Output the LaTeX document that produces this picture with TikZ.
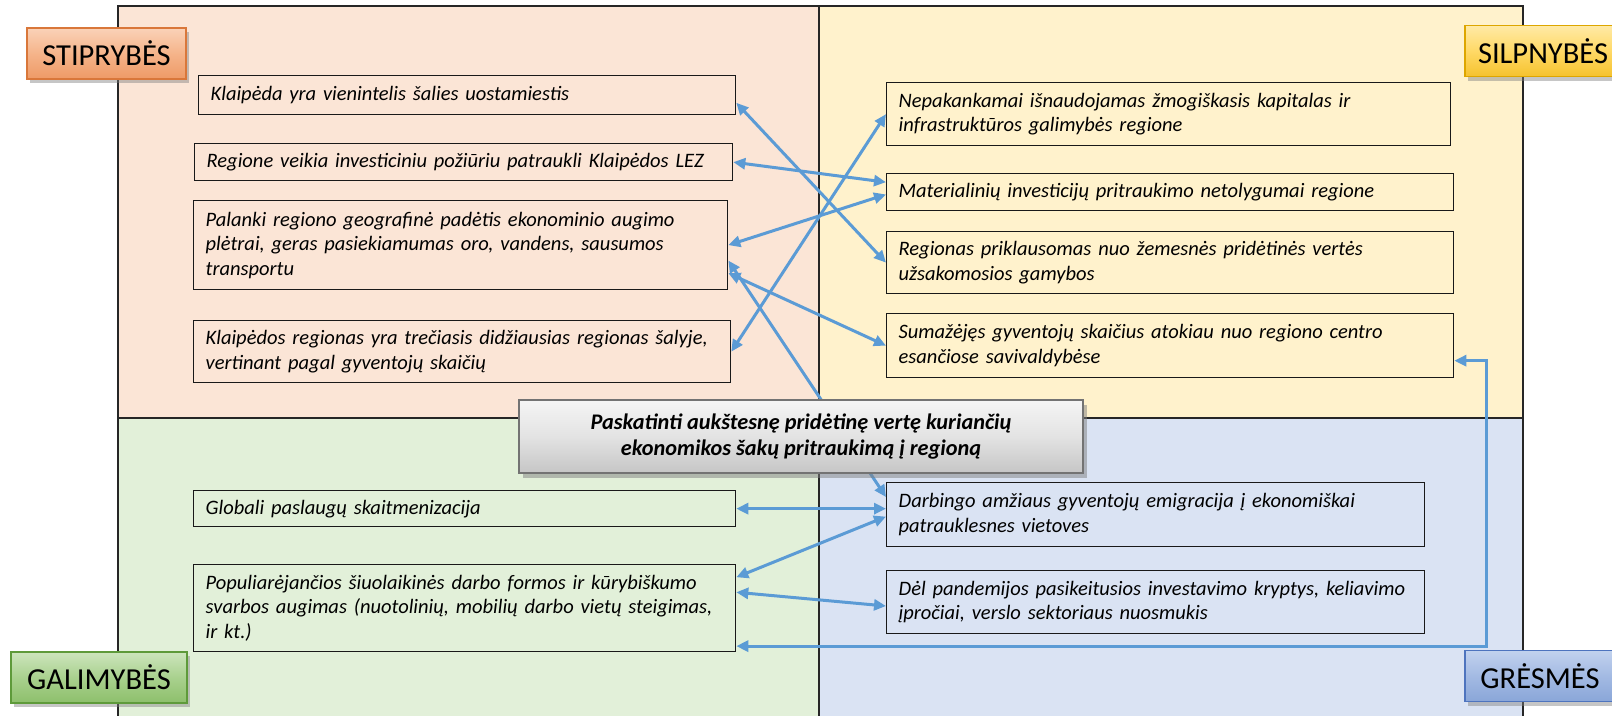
\documentclass[tikz,border=0pt]{standalone}
\usepackage{fontspec}
\setmainfont{Carlito}
\usetikzlibrary{arrows.meta,calc,shadows}
\definecolor{qtl}{HTML}{FBE5D6}
\definecolor{qtr}{HTML}{FFF2CC}
\definecolor{qbl}{HTML}{E2F0D9}
\definecolor{qbr}{HTML}{DAE3F3}
\definecolor{arrowblue}{HTML}{5B9BD5}
\definecolor{sTop}{HTML}{FAD2B8}\definecolor{sMid}{HTML}{F5B48A}\definecolor{sBot}{HTML}{EE9A66}\definecolor{sBrd}{HTML}{D9773A}
\definecolor{wTop}{HTML}{FFEAA6}\definecolor{wMid}{HTML}{FFD966}\definecolor{wBot}{HTML}{F5C22E}\definecolor{wBrd}{HTML}{DDA600}
\definecolor{oTop}{HTML}{CDE5BD}\definecolor{oMid}{HTML}{A9D18E}\definecolor{oBot}{HTML}{8DBF6B}\definecolor{oBrd}{HTML}{5E9A3A}
\definecolor{tTop}{HTML}{C2D2EE}\definecolor{tMid}{HTML}{A3BAE3}\definecolor{tBot}{HTML}{8AA6D8}\definecolor{tBrd}{HTML}{4E74BE}
\begin{document}
\begin{tikzpicture}[x=1pt,y=-1pt,
  frame/.style={draw=black!85,line width=1.5pt},
  box/.style 2 args={draw=black!90,line width=1.3pt,anchor=north west,inner xsep=12pt,inner ysep=0pt,
     align=left,text width=#1pt,minimum height=#2pt,font=\fontsize{20.5}{24.5}\selectfont\itshape},
  conn/.style={draw=arrowblue,line width=3pt,{Triangle[length=12pt,width=11pt]}-{Triangle[length=12pt,width=11pt]}},
  lbl/.style 2 args={draw=#1,line width=1.2pt,minimum width=#2pt,minimum height=51pt,inner sep=0pt,
     font=\fontsize{30.5}{36}\selectfont,drop shadow={shadow xshift=3pt,shadow yshift=-4pt,opacity=0.45}},
  cbox/.style={draw=black!55,line width=1.2pt,minimum width=564pt,minimum height=73pt,align=center,
     top color=gray!8,bottom color=gray!45,middle color=gray!22,
     font=\fontsize{22.3}{26}\selectfont\bfseries\itshape,drop shadow={shadow xshift=4pt,shadow yshift=-5pt,opacity=0.5}}
]
\useasboundingbox (0,0) rectangle (1612,715);
% quadrants
\fill[qtl] (118,6) rectangle (819,418);
\fill[qtr] (819,6) rectangle (1523,418);
\fill[qbl] (118,418) rectangle (819,720);
\fill[qbr] (819,418) rectangle (1523,720);
\draw[frame] (118,720) -- (118,6) -- (1523,6) -- (1523,720);
\draw[frame] (819,6) -- (819,720);
\draw[frame] (118,418) -- (1523,418);

% strengths
\node[box={513}{39},fill=qtl] (B1) at (198,75) {Klaipėda yra vienintelis šalies uostamiestis};
\node[box={514}{37},fill=qtl] (B2) at (194,143) {Regione veikia investiciniu požiūriu patraukli Klaipėdos LEZ};
\node[box={510}{89},fill=qtl] (B3) at (193,200) {Palanki regiono geografinė padėtis ekonominio augimo\\plėtrai, geras pasiekiamumas oro, vandens, sausumos\\transportu};
\node[box={513}{62},fill=qtl] (B4) at (193,320) {Klaipėdos regionas yra trečiasis didžiausias regionas šalyje,\\vertinant pagal gyventojų skaičių};
% weaknesses
\node[box={540}{63},fill=qtr] (R1) at (886,82) {Nepakankamai išnaudojamas žmogiškasis kapitalas ir\\infrastruktūros galimybės regione};
\node[box={543}{37},fill=qtr] (R2) at (886,173) {Materialinių investicijų pritraukimo netolygumai regione};
\node[box={543}{62},fill=qtr] (R3) at (886,231) {Regionas priklausomas nuo žemesnės pridėtinės vertės\\užsakomosios gamybos};
\node[box={543}{64},fill=qtr] (R4) at (886,313) {Sumažėjęs gyventojų skaičius atokiau nuo regiono centro\\esančiose savivaldybėse};
% opportunities
\node[box={518}{36},fill=qbl] (G1) at (193,490) {Globali paslaugų skaitmenizacija};
\node[box={518}{87},fill=qbl] (G2) at (193,564) {Populiarėjančios šiuolaikinės darbo formos ir kūrybiškumo\\svarbos augimas (nuotolinių, mobilių darbo vietų steigimas,\\ir kt.)};
% threats
\node[box={514}{64},fill=qbr] (T1) at (886,482) {Darbingo amžiaus gyventojų emigracija į ekonomiškai\\patrauklesnes vietoves};
\node[box={514}{63},fill=qbr] (T2) at (886,570) {Dėl pandemijos pasikeitusios investavimo kryptys, keliavimo\\įpročiai, verslo sektoriaus nuosmukis};

% connectors
\draw[conn] ($(B1.north east)!0.69!(B1.south east)$) -- (R3.west);
\draw[conn] (B2.east) -- ($(R2.north west)!0.24!(R2.south west)$);
\draw[conn] (B3.east) -- ($(R2.north west)!0.56!(R2.south west)$);
\draw[conn] (B4.east) -- (R1.west);
\draw[conn] ($(B3.north east)!0.81!(B3.south east)$) -- (R4.west);
\draw[conn] ($(B3.north east)!0.67!(B3.south east)$) -- ($(T1.north west)!0.23!(T1.south west)$);
\draw[conn] (G1.east) -- (G1.east -| T1.west);
\draw[conn] ($(G2.north east)!0.15!(G2.south east)$) -- ($(T1.north west)!0.53!(T1.south west)$);
\draw[conn] ($(G2.north east)!0.32!(G2.south east)$) -- ($(T2.north west)!0.56!(T2.south west)$);
\coordinate (rail) at (1486,0);
\coordinate (g2p) at ($(G2.north east)!0.93!(G2.south east)$);
\coordinate (r4p) at ($(R4.north east)!0.73!(R4.south east)$);
\draw[conn] (g2p) -- (g2p -| rail) |- (r4p);

% central goal
\node[cbox] (C) at (801,436.5) {Paskatinti aukštesnę pridėtinę vertę kuriančių\\ekonomikos šakų pritraukimą į regioną};

% SWOT labels
\node[lbl={sBrd}{159},top color=sTop,bottom color=sBot,middle color=sMid] (S) at (106.5,53.5) {STIPRYBĖS};
\node[lbl={wBrd}{156},top color=wTop,bottom color=wBot,middle color=wMid] (W) at (1543,51) {SILPNYBĖS};
\node[lbl={oBrd}{176},top color=oTop,bottom color=oBot,middle color=oMid] (O) at (99,677.5) {GALIMYBĖS};
\node[lbl={tBrd}{150},top color=tTop,bottom color=tBot,middle color=tMid] (T) at (1540,676) {GRĖSMĖS};
\end{tikzpicture}
\end{document}
